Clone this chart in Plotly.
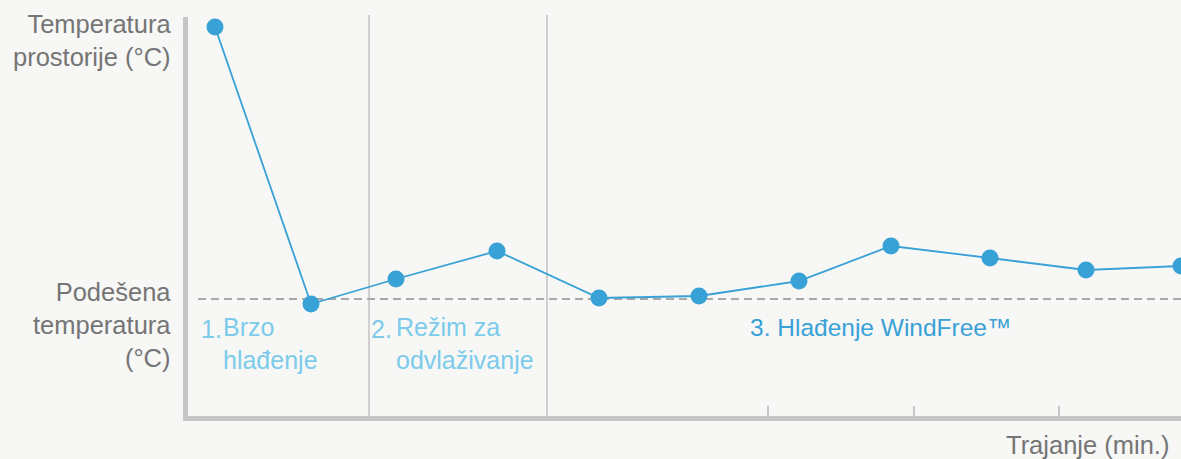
import plotly.graph_objects as go

# Data (minutes, relative temperature units)
minutes = [2.7, 12.3, 20.8, 30.9, 41.1, 51.1, 61.1, 70.3, 80.2, 89.8, 99.3]
temperature = [38.9, 11.2, 13.7, 16.5, 11.8, 12.0, 13.5, 17.0, 15.8, 14.6, 15.0]
set_temperature = 11.7
phase_boundaries = [18.1, 35.9]
x_ticks = [58.0, 72.6, 87.1]

BLUE = "#38a1d6"
LIGHT_BLUE = "#7ccbeb"
GRAY_TEXT = "#757575"
AXIS = "#c6c6c6"
FONT = "Liberation Sans, Arial, sans-serif"

fig = go.Figure()
fig.add_trace(go.Scatter(
    x=minutes, y=temperature, mode="lines+markers",
    line=dict(color=BLUE, width=1.8),
    marker=dict(color=BLUE, size=17),
    showlegend=False, hoverinfo="skip",
))

shapes = []
for b in phase_boundaries:
    shapes.append(dict(type="line", xref="x", yref="paper", x0=b, x1=b, y0=0, y1=1.005,
                       line=dict(color="#cfcfcf", width=2), layer="below"))
shapes.append(dict(type="line", xref="x", yref="y", x0=1.0, x1=99.3,
                   y0=set_temperature, y1=set_temperature,
                   line=dict(color="#a8a8a8", width=2, dash="8px,5px"), layer="below"))

annotations = [
    dict(text="Temperatura<br>prostorije (°C)", xref="paper", yref="y", x=0, y=37.6,
         xanchor="right", yanchor="middle", xshift=-15, align="right", showarrow=False,
         font=dict(family=FONT, size=25.5, color=GRAY_TEXT)),
    dict(text="Podešena<br>temperatura<br>(°C)", xref="paper", yref="y", x=0, y=9.1,
         xanchor="right", yanchor="middle", xshift=-15, align="right", showarrow=False,
         font=dict(family=FONT, size=25.5, color=GRAY_TEXT)),
    dict(text="1.", xref="x", yref="y", x=1.1, y=8.7, xanchor="left", yanchor="middle",
         showarrow=False, font=dict(family=FONT, size=25, color=LIGHT_BLUE)),
    dict(text="Brzo<br>hlađenje", xref="x", yref="y", x=3.3, y=7.25, xanchor="left", yanchor="middle",
         align="left", showarrow=False, font=dict(family=FONT, size=25, color=LIGHT_BLUE)),
    dict(text="2.", xref="x", yref="y", x=18.1, y=8.7, xanchor="left", yanchor="middle",
         showarrow=False, font=dict(family=FONT, size=25, color=LIGHT_BLUE)),
    dict(text="Režim za<br>odvlaživanje", xref="x", yref="y", x=20.6, y=7.25, xanchor="left", yanchor="middle",
         align="left", showarrow=False, font=dict(family=FONT, size=25, color=LIGHT_BLUE)),
    dict(text="3. Hlađenje WindFree™", xref="x", yref="y", x=56.0, y=8.85, xanchor="left", yanchor="middle",
         showarrow=False, font=dict(family=FONT, size=24.5, color=BLUE)),
    dict(text="Trajanje (min.)", xref="paper", yref="paper", x=1, y=0, xanchor="right", yanchor="middle",
         xshift=-10, yshift=-29, showarrow=False, font=dict(family=FONT, size=25.5, color=GRAY_TEXT)),
]

fig.update_layout(
    width=1181, height=459,
    margin=dict(l=188, r=0, t=17, b=43),
    paper_bgcolor="#f7f7f5", plot_bgcolor="#f7f7f5",
    shapes=shapes, annotations=annotations,
    xaxis=dict(range=[0, 99.3], showgrid=False, zeroline=False, showline=True,
               linecolor=AXIS, linewidth=5, ticks="inside", tickvals=x_ticks,
               ticklen=10, tickwidth=2, tickcolor=AXIS, showticklabels=False, fixedrange=True),
    yaxis=dict(range=[0, 39.9], showgrid=False, zeroline=False, showline=True,
               linecolor=AXIS, linewidth=5, ticks="", showticklabels=False, fixedrange=True),
)

fig.write_html("out.html", config={"displayModeBar": False},
               post_script="document.body.style.margin='0';document.body.style.background='#f7f7f5';")
